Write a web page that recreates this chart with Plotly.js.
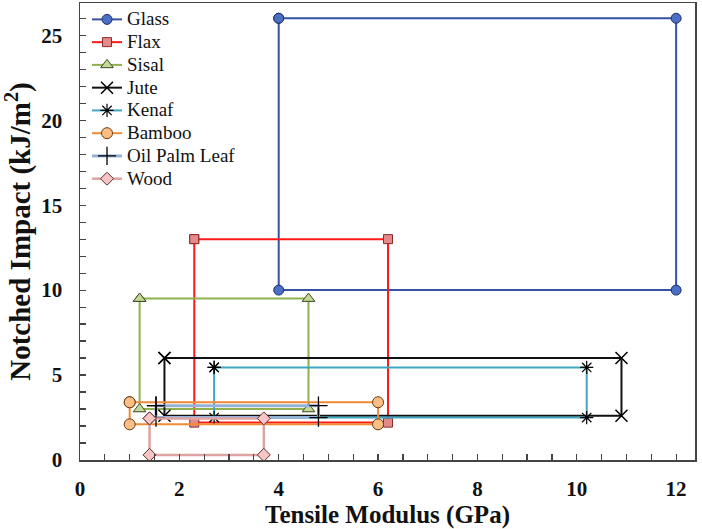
<!DOCTYPE html>
<html>
<head>
<meta charset="utf-8">
<script src="https://cdn.plot.ly/plotly-3.0.1.min.js"></script>
<style>html,body{margin:0;padding:0;background:#fff;}#chart{width:702px;height:529px;}</style>
</head>
<body>
<div id="chart"></div>
<script>
// Materials and their property ranges
const materials = ["Glass", "Flax", "Sisal", "Jute", "Kenaf", "Bamboo", "Oil Palm Leaf", "Wood"];
const modulusMin = [4.0, 2.3, 1.2, 1.7, 2.7, 1.0, 1.53, 1.4];   // GPa
const modulusMax = [12.0, 6.2, 4.6, 10.9, 10.2, 6.0, 4.8, 3.7];  // GPa
const impactMin = [10.0, 2.2, 3.0, 2.6, 2.5, 2.1, 2.5, 0.3];    // kJ/m2
const impactMax = [26.0, 13.0, 9.5, 6.0, 5.45, 3.4, 3.2, 2.45];  // kJ/m2
const xTickVals = [0, 2, 4, 6, 8, 10, 12];
const yTickVals = [0, 5, 10, 15, 20, 25];

const styles = [
  {line: '#3552a5', w: 2, sym: 'circle', size: 10, fill: '#4a6fc4', edge: '#1f2f66', ew: 1},
  {line: '#ff1a1a', w: 2, sym: 'square', size: 9, fill: '#e58a8a', edge: '#8b2a2a', ew: 1},
  {line: '#8fb04c', w: 2, sym: 'triangle-up', size: 11, fill: '#c3d99a', edge: '#3d4d20', ew: 1},
  {line: '#111111', w: 2, sym: 'x-thin-open', size: 12, fill: '#000', edge: '#000', ew: 1.5},
  {line: '#3fa7c4', w: 2, sym: 'asterisk-open', size: 11, fill: '#000', edge: '#000', ew: 1.2},
  {line: '#f08a34', w: 2, sym: 'circle', size: 11, fill: '#fbbf86', edge: '#6b3a10', ew: 1},
  {line: '#95b3d7', w: 3, sym: 'cross-thin-open', size: 13, fill: '#000', edge: '#000', ew: 1.3},
  {line: '#e0a3a3', w: 2.5, sym: 'diamond', size: 10, fill: '#f7c5c5', edge: '#5a3030', ew: 1}
];

const traces = materials.map((name, i) => {
  const s = styles[i];
  return {
    type: 'scatter', mode: 'lines+markers', name: name,
    x: [modulusMin[i], modulusMax[i], modulusMax[i], modulusMin[i], modulusMin[i]],
    y: [impactMax[i], impactMax[i], impactMin[i], impactMin[i], impactMax[i]],
    line: {color: s.line, width: s.w},
    marker: {symbol: s.sym, size: s.size, color: s.fill, line: {color: s.edge, width: s.ew}},
    hoverinfo: 'x+y+name'
  };
});

const serif = 'Liberation Serif, Times New Roman, serif';
const layout = {
  width: 702, height: 529,
  margin: {l: 80, r: 7, t: 3, b: 69},
  paper_bgcolor: '#fff', plot_bgcolor: '#fff',
  showlegend: true,
  legend: {x: 0.0114, y: 1, xanchor: 'left', yanchor: 'top', bgcolor: 'rgba(255,255,255,0)',
           font: {family: serif, size: 15.2, color: '#111'}, tracegroupgap: 0},
  xaxis: {
    range: [0, 12.38], tickvals: xTickVals, ticktext: xTickVals.map(String),
    ticks: 'inside', ticklen: 6, tickcolor: '#444', tickwidth: 1.2,
    minor: {dtick: 0.5, ticks: 'inside', ticklen: 6, tickcolor: '#444', tickwidth: 1.2, showgrid: false},
    showgrid: false, zeroline: false, showline: true, linecolor: '#444', linewidth: 1.5, mirror: true,
    tickfont: {family: serif, size: 21, color: '#111', weight: 'bold'},
    ticklabelstandoff: 9,
    title: {text: 'Tensile Modulus (GPa)', font: {family: serif, size: 25, color: '#111', weight: 'bold'}, standoff: 2}
  },
  yaxis: {
    range: [0, 26.9], tickvals: yTickVals, ticktext: yTickVals.map(String),
    ticks: 'inside', ticklen: 6, tickcolor: '#444', tickwidth: 1.2,
    minor: {dtick: 1, ticks: 'inside', ticklen: 6, tickcolor: '#444', tickwidth: 1.2, showgrid: false},
    showgrid: false, zeroline: false, showline: true, linecolor: '#444', linewidth: 1.5, mirror: true,
    tickfont: {family: serif, size: 21, color: '#111', weight: 'bold'},
    ticklabelstandoff: 12,
    title: {text: 'Notched Impact (kJ/m<sup>2</sup>)', font: {family: serif, size: 29, color: '#111', weight: 'bold'}, standoff: 6}
  }
};

Plotly.newPlot('chart', traces, layout, {displayModeBar: false, staticPlot: true}).then(gd => {
  // Legend entries in the reference are set tighter than Plotly's default line height allows
  gd.querySelectorAll('.legendtext').forEach(t => { t.style.fontSize = '19px'; });
  gd.querySelectorAll('.legend [clip-path]').forEach(el => el.removeAttribute('clip-path'));
  gd.querySelectorAll('.legend rect.bg').forEach(r => r.setAttribute('width', '170'));
});
</script>
</body>
</html>
